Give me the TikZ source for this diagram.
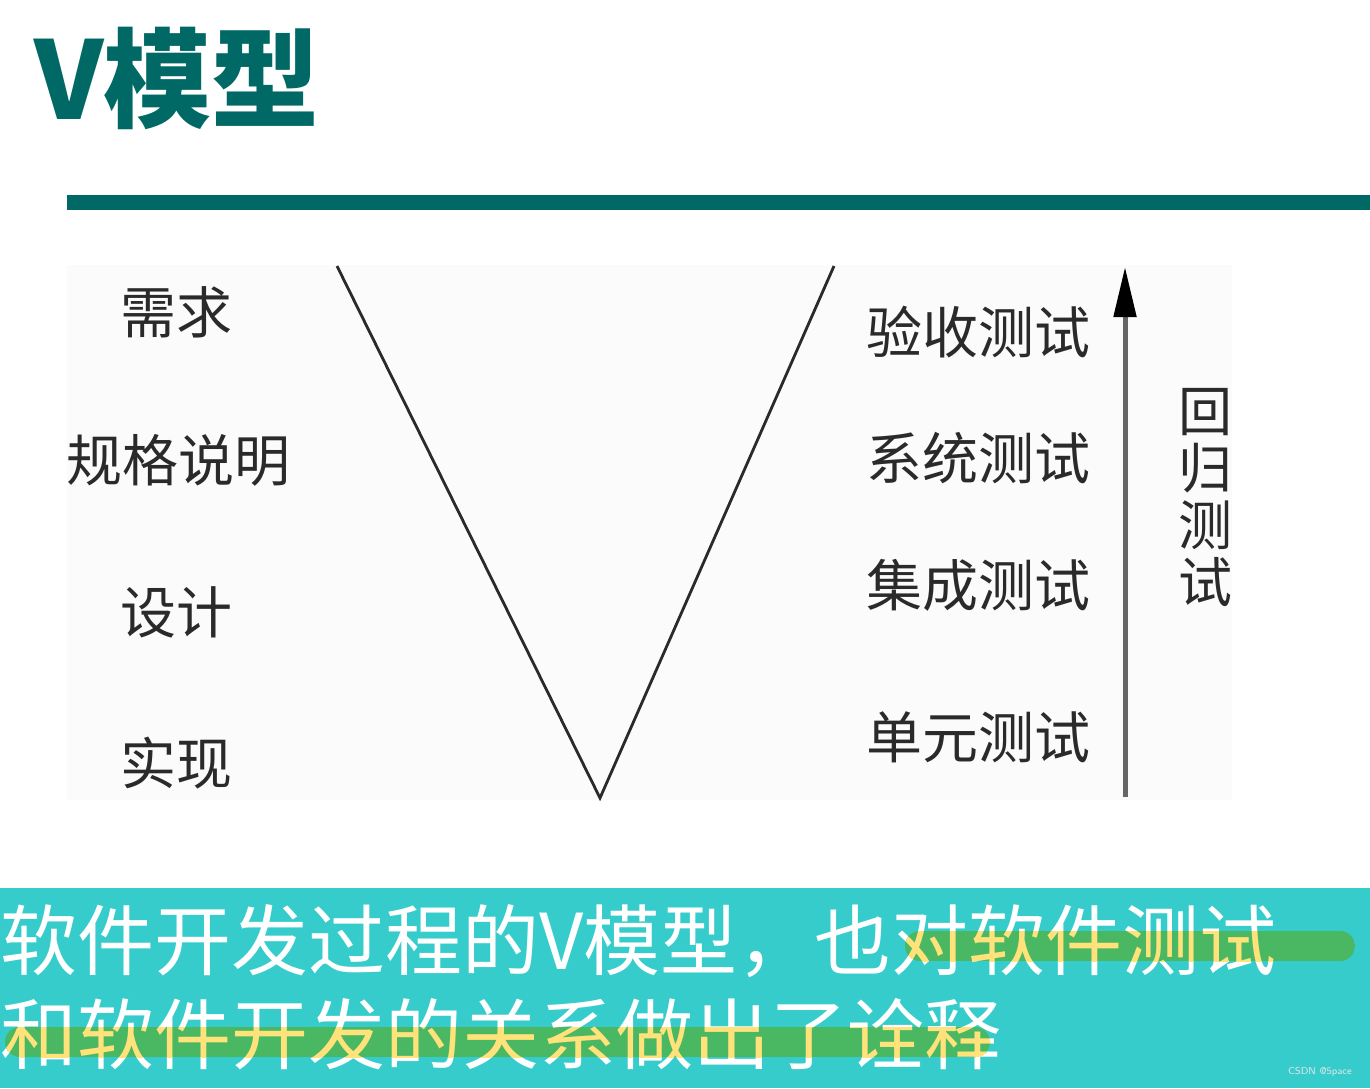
\documentclass[tikz,border=0pt]{standalone}
\usepackage{fontspec}
\newfontfamily\cjk{Noto Sans CJK SC}
\usetikzlibrary{arrows.meta}
\definecolor{titleteal}{HTML}{006966}
\definecolor{bandteal}{HTML}{36CCCC}
\definecolor{hlgreen}{HTML}{4AB763}
\definecolor{hlyellow}{HTML}{FFE27A}
\definecolor{inkgray}{HTML}{2A2A2A}
\definecolor{shaftgray}{HTML}{666666}
\definecolor{paperbg}{HTML}{FBFBFB}
\tikzset{
  lbl/.style={inner sep=0pt, anchor=base, text=inkgray, font=\cjk\fontsize{28pt}{30pt}\selectfont},
  btext/.style={inner sep=0pt, anchor=base west, font=\cjk\fontsize{38.5pt}{41pt}\selectfont},
  vline/.style={draw=inkgray, line width=1.4pt, line join=miter}
}
\begin{document}
\begin{tikzpicture}[x=0.5pt,y=-0.5pt]
\useasboundingbox (0,0) rectangle (1370,1088);
% title
\node[inner sep=0pt, anchor=base west, text=titleteal, font=\cjk\bfseries\fontsize{54pt}{56pt}\selectfont] (title) at (34,119) {V模型};
\fill[titleteal] (67,195) rectangle (1370,210);
% image background
\fill[paperbg] (67,265) rectangle (1232,800);
% left labels
\node[lbl] (req) at (176,333) {需求};
\node[lbl] (spec) at (178,481) {规格说明};
\node[lbl] (des) at (176,633) {设计};
\node[lbl] (impl) at (176,784) {实现};
% right labels
\node[lbl] (acc) at (978,353) {验收测试};
\node[lbl] (sys) at (978,479) {系统测试};
\node[lbl] (integ) at (978,606) {集成测试};
\node[lbl] (unit) at (978,758) {单元测试};
% V
\coordinate (vL) at (337,266);
\coordinate (vB) at (600,798);
\coordinate (vR) at (834,266);
\draw[vline] (vL) -- (vB) -- (vR);
% regression arrow
\coordinate (aS) at (1125,797);
\coordinate (aE) at (1125,267);
\draw[draw=shaftgray, line width=2.5pt, -{Triangle[length=25pt,width=11pt,color=black]}] (aS) -- (aE);
\node[inner sep=0pt, anchor=north, text=inkgray, align=center, font=\cjk\fontsize{27pt}{28.5pt}\selectfont] (reg) at (1205,388) {回\\归\\测\\试};
% bottom band
\fill[bandteal] (0,888) rectangle (1370,1088);
\node[btext, text=white] (l1) at (0,969) {软件开发过程的V模型，也对软件测试};
\node[btext, text=white] (l2) at (0,1063) {和软件开发的关系做出了诠释};
\begin{scope}
  \clip[rounded corners=7.5pt] (905,931) rectangle (1355,961);
  \fill[hlgreen] (905,931) rectangle (1355,961);
  \node[btext, text=hlyellow] (l1h) at (0,969) {软件开发过程的V模型，也对软件测试};
\end{scope}
\begin{scope}
  \clip[rounded corners=7.5pt] (5,1027) rectangle (990,1057);
  \fill[hlgreen] (5,1027) rectangle (990,1057);
  \node[btext, text=hlyellow] (l2h) at (0,1063) {和软件开发的关系做出了诠释};
\end{scope}
\node[inner sep=0pt, text=white!80!gray, font=\sffamily\fontsize{5pt}{6pt}\selectfont] (wm) at (1320,1072) {CSDN @5pace};
\end{tikzpicture}
\end{document}
